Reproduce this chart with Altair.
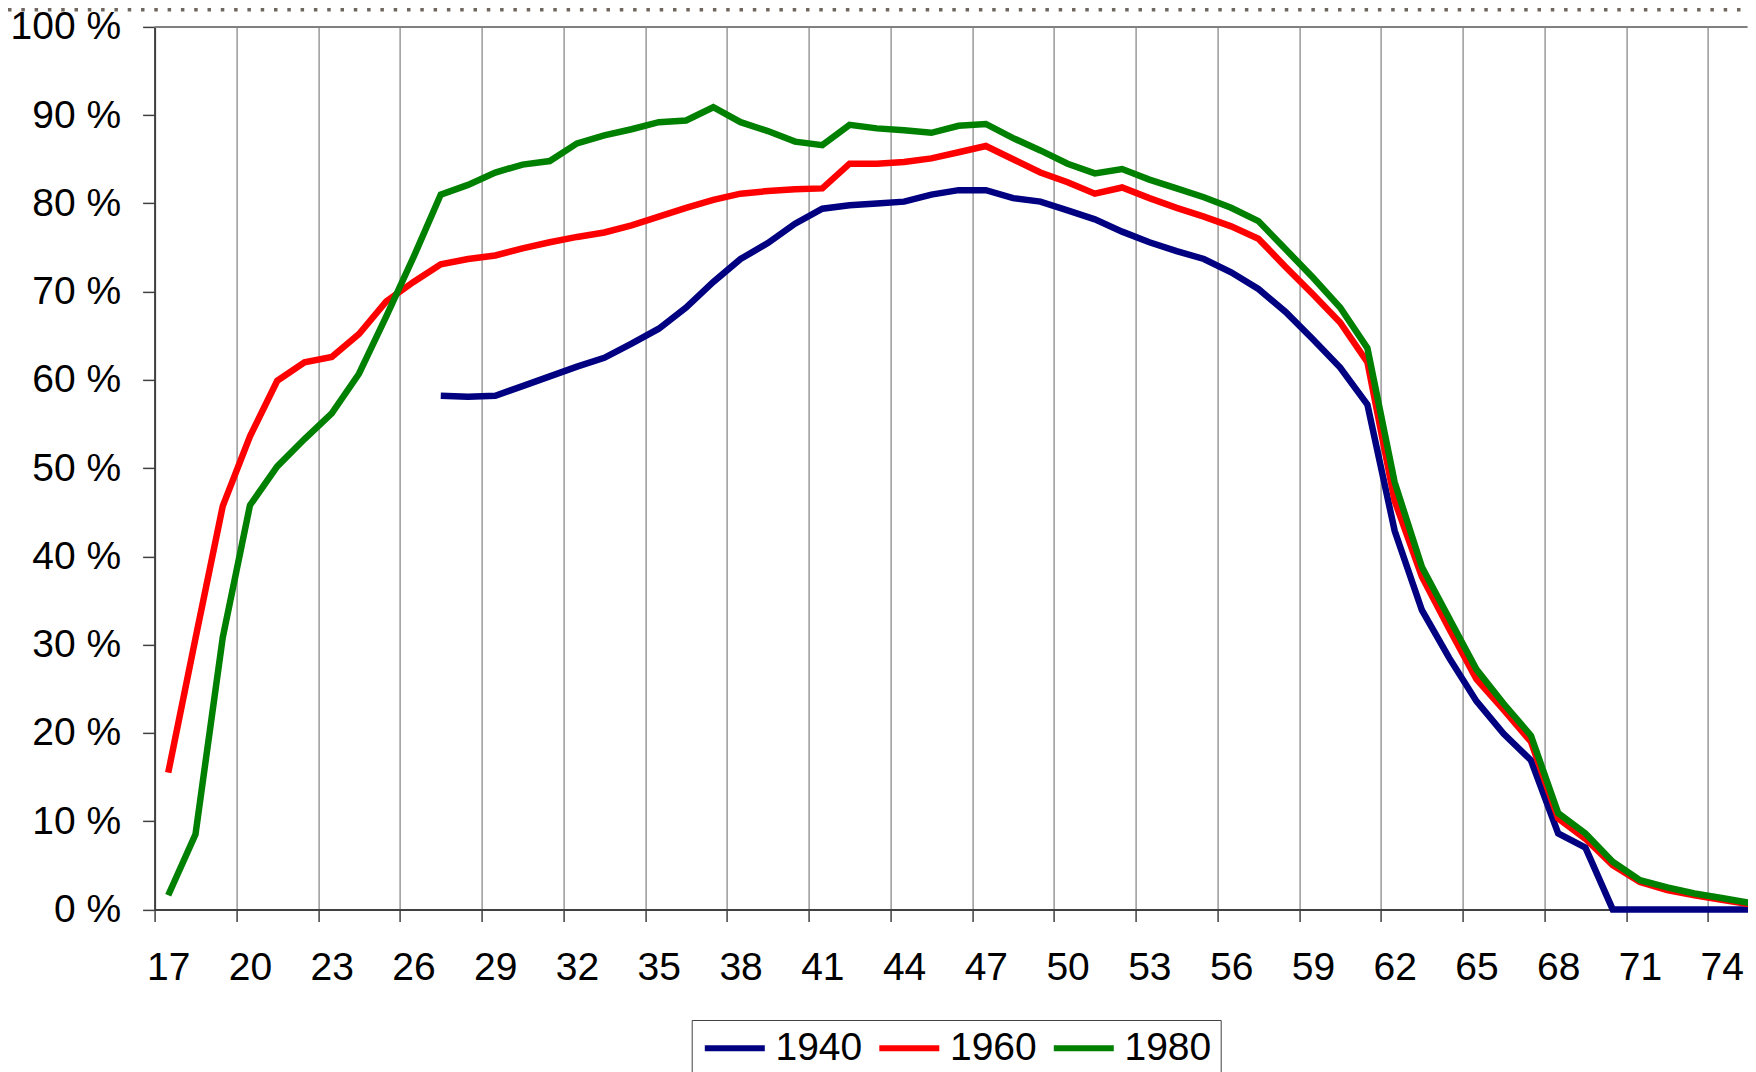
import altair as alt
import pandas as pd

ages = list(range(17, 76))
years = ["1940", "1960", "1980"]
colors = ["#000080", "#FF0000", "#008000"]

y1940 = [None] * 10 + [
    58.2, 58.1, 58.2, 59.3, 60.4, 61.5, 62.5, 64.1, 65.8, 68.2,
    71.1, 73.7, 75.5, 77.7, 79.4, 79.8, 80.0, 80.2, 81.0, 81.5,
    81.5, 80.6, 80.2, 79.2, 78.2, 76.8, 75.6, 74.6, 73.7, 72.2,
    70.3, 67.7, 64.6, 61.4, 57.2, 42.9, 33.9, 28.5, 23.6, 19.9,
    16.9, 8.6, 7.0, 0, 0, 0, 0, 0, 0,
]
y1960 = [
    15.5, 30.7, 45.7, 53.6, 59.9, 62.0, 62.6, 65.2, 68.9, 71.1,
    73.1, 73.7, 74.1, 74.9, 75.6, 76.2, 76.7, 77.5, 78.5, 79.5,
    80.4, 81.1, 81.4, 81.6, 81.7, 84.5, 84.5, 84.7, 85.1, 85.8,
    86.5, 85.0, 83.5, 82.4, 81.1, 81.8, 80.6, 79.5, 78.5, 77.4,
    76.0, 72.8, 69.7, 66.5, 62.0, 46.3, 37.7, 31.8, 26.1, 22.6,
    19.0, 10.3, 8.0, 5.0, 3.1, 2.2, 1.6, 1.1, 0.6,
]
y1980 = [
    1.6, 8.5, 30.8, 45.8, 50.2, 53.3, 56.2, 60.7, 67.2, 73.9,
    81.0, 82.1, 83.5, 84.4, 84.8, 86.8, 87.7, 88.4, 89.2, 89.4,
    90.9, 89.2, 88.2, 87.0, 86.6, 88.9, 88.5, 88.3, 88.0, 88.8,
    89.0, 87.4, 86.0, 84.5, 83.4, 83.9, 82.7, 81.7, 80.7, 79.5,
    78.0, 74.8, 71.6, 68.2, 63.6, 48.4, 38.8, 33.0, 27.2, 23.3,
    19.7, 10.9, 8.6, 5.4, 3.3, 2.5, 1.8, 1.3, 0.75,
]
x_tick_values = list(range(17, 75, 3))
y_tick_values = list(range(0, 101, 10))

rows = []
for yr, series in zip(years, [y1940, y1960, y1980]):
    for a, v in zip(ages, series):
        if v is not None:
            rows.append({"age": a, "value": v, "year": yr})
df = pd.DataFrame(rows)

FONT = "Liberation Sans"
FS = 39
W = 1593          # visible plot width (svg kept inside the page)
RANGE_W = 1608    # full x range of the original plot (extends past the page edge)
BAND = RANGE_W / len(ages)
H = 882.5

lines = alt.Chart(df).mark_line(strokeWidth=6.5, strokeJoin="miter").encode(
    x=alt.X(
        "age:O",
        scale=alt.Scale(type="band", paddingInner=0, paddingOuter=0, range=[0, RANGE_W]),
        axis=alt.Axis(
            values=x_tick_values,
            tickBand="center",
            tickOffset=-BAND / 2,
            labelOffset=BAND / 2,
            labelAngle=0,
            title=None,
            grid=True,
            labelPadding=27.5,
        ),
    ),
    y=alt.Y(
        "value:Q",
        scale=alt.Scale(domain=[0, 100], nice=False),
        axis=alt.Axis(
            values=y_tick_values,
            labelExpr="datum.value + ' %'",
            title=None,
            labelPadding=22,
        ),
    ),
    color=alt.Color(
        "year:N",
        scale=alt.Scale(domain=years, range=colors),
        legend=alt.Legend(
            title=None,
            orient="none",
            legendX=537.1,
            legendY=993.1,
            direction="horizontal",
            columns=3,
            symbolType="M-1,0H3",
            symbolSize=900,
            symbolStrokeWidth=6,
            labelFontSize=FS,
            labelFont=FONT,
            labelColor="black",
            labelOffset=36.2,
            columnPadding=4.5,
            padding=8.6,
            strokeColor="#404040",
        ),
    ),
)

dummy = pd.DataFrame({"v": [0]})
top_border = alt.Chart(dummy).mark_rule(color="#808080", strokeWidth=2).encode(
    y=alt.datum(100)
)
dotted_top = alt.Chart(dummy).mark_rule(
    color="#6f665f", strokeWidth=3.5, strokeDash=[3.5, 9.8]
).encode(x=alt.value(-146.6), x2=alt.value(W + 10), y=alt.value(-17.2))

chart = (
    alt.layer(dotted_top, top_border, lines)
    .properties(
        width=W,
        height=H,
        autosize=alt.AutoSizeParams(type="none"),
        padding={"left": 146.6, "top": 18.9, "right": 0, "bottom": 170},
    )
    .configure(font=FONT, background="white")
    .configure_view(stroke=None)
    .configure_axis(
        domainColor="#404040",
        domainWidth=2,
        tickColor="#404040",
        tickSize=12,
        tickWidth=1.5,
        labelFontSize=FS,
        labelFont=FONT,
        labelColor="black",
        gridColor="#000000",
        gridDash=[1, 1],
        gridWidth=1.2,
    )
)

chart.save("out.html", embed_options={"renderer": "svg", "actions": False})
